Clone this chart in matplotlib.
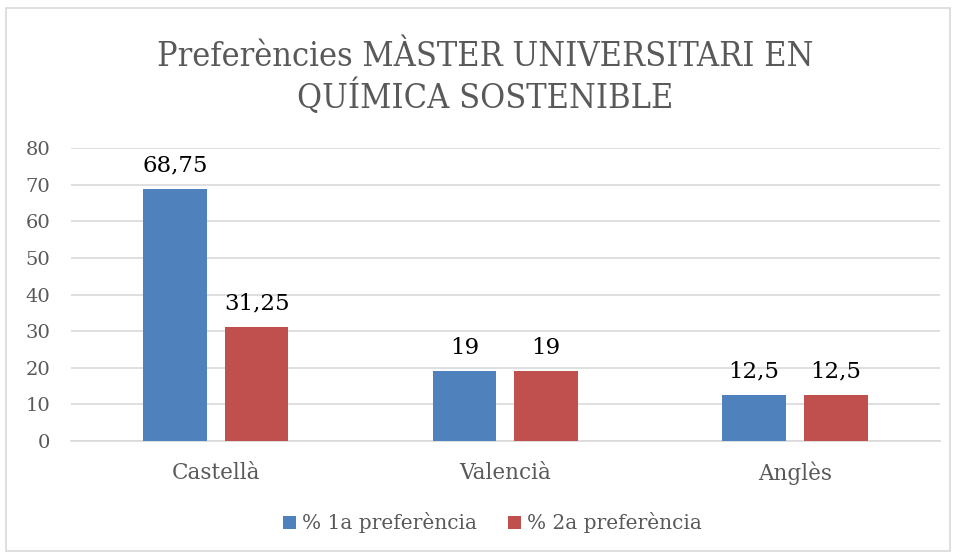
import matplotlib
matplotlib.use("Agg")
import matplotlib.pyplot as plt
import numpy as np
from matplotlib.patches import Rectangle

categories = ["Castellà", "Valencià", "Anglès"]
pref1 = [68.75, 19, 12.5]
pref2 = [31.25, 19, 12.5]
labels1 = ["68,75", "19", "12,5"]
labels2 = ["31,25", "19", "12,5"]
series_names = ["% 1a preferència", "% 2a preferència"]
yticks = [0, 10, 20, 30, 40, 50, 60, 70, 80]

plt.rcParams['font.family'] = ['DejaVu Serif']
grey = '#595959'

fig = plt.figure(figsize=(9.56, 5.55), dpi=100)
fig.patches.append(Rectangle((0.006, 0.008), 0.988, 0.978, transform=fig.transFigure,
                             fill=False, edgecolor='#d9d9d9', linewidth=1.2))

ax = fig.add_axes([0.0743, 0.2054, 0.9087, 0.5279])
x = np.arange(len(categories))
w = 0.22
b1 = ax.bar(x - 0.141, pref1, w, color='#4f81bd', zorder=3, label=series_names[0])
b2 = ax.bar(x + 0.141, pref2, w, color='#c0504d', zorder=3, label=series_names[1])

for bars, labs in ((b1, labels1), (b2, labels2)):
    for rect, lab in zip(bars, labs):
        ax.annotate(lab, (rect.get_x() + rect.get_width() / 2, rect.get_height()),
                    xytext=(0, 9), textcoords='offset points', ha='center', va='bottom',
                    fontsize=16.5, color='black')

ax.set_xlim(-0.5, 2.5)
ax.set_ylim(0, 80)
ax.set_yticks(yticks)
ax.set_xticks(x)
ax.set_xticklabels(categories)
ax.yaxis.grid(True, color='#d9d9d9', linewidth=1.2, zorder=0)
for s in ('top', 'right', 'left'):
    ax.spines[s].set_visible(False)
ax.spines['bottom'].set_color('#d9d9d9')
ax.spines['bottom'].set_linewidth(1.2)
ax.tick_params(length=0, colors=grey)
ax.tick_params(axis='y', labelsize=14, pad=15)
ax.tick_params(axis='x', labelsize=15.5, pad=15)

# title is drawn narrow in the original
fig.text(0.508, 0.86, "Preferències MÀSTER UNIVERSITARI EN\nQUÍMICA SOSTENIBLE",
         ha='center', va='center', fontsize=24.5, color=grey, linespacing=1.2,
         fontstretch='condensed')

fig.legend(handles=[b1, b2], loc='center', bbox_to_anchor=(0.515, 0.058), ncol=2,
           frameon=False, fontsize=14.5, labelcolor=grey, handlelength=0.65,
           handleheight=0.65, handletextpad=0.3, columnspacing=1.5)

fig.savefig("out.png", dpi=100)
